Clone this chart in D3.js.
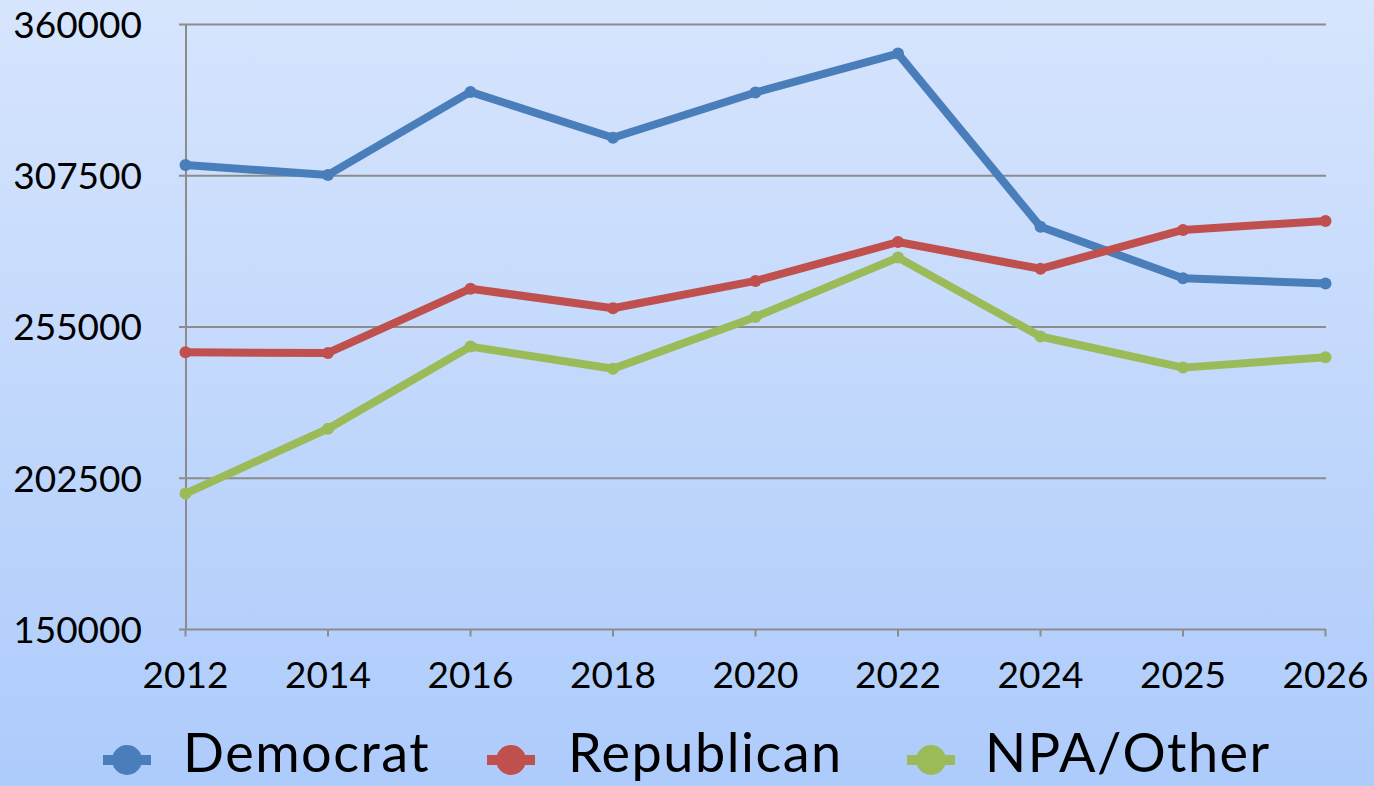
<!DOCTYPE html>
<html>
<head>
<meta charset="utf-8">
<script src="https://cdn.jsdelivr.net/npm/d3@7"></script>
<style>
  body { margin: 0; padding: 0; overflow: hidden; }
  text { font-family: Lato, "Open Sans", sans-serif; fill: #000; }
</style>
</head>
<body>
<div id="chart-area"></div>
<script>
// values
var years = ["2012", "2014", "2016", "2018", "2020", "2022", "2024", "2025", "2026"];
var democrat   = [311200, 307800, 336600, 320700, 336400, 349900, 289800, 271900, 270100];
var republican = [246200, 246000, 268300, 261500, 271000, 284500, 275200, 288700, 291800];
var npaOther   = [197200, 219700, 248200, 240500, 258500, 279100, 251700, 240900, 244500];
var yTicks = [150000, 202500, 255000, 307500, 360000];
var seriesNames = ["Democrat", "Republican", "NPA/Other"];
var seriesColors = ["#4a7ebb", "#c0504d", "#9bbb59"];

var width_chart = 1374;
var height_chart = 786;

var svg = d3.select("#chart-area").append("svg")
	.attr("width", width_chart)
	.attr("height", height_chart);

// background gradient
var grad = svg.append("defs").append("linearGradient")
	.attr("id", "bg")
	.attr("x1", 0).attr("y1", 0).attr("x2", 0).attr("y2", 1);
grad.append("stop").attr("offset", "0%").attr("stop-color", "#d7e5fd");
grad.append("stop").attr("offset", "100%").attr("stop-color", "#adcbfb");

svg.append("rect")
	.attr("width", width_chart)
	.attr("height", height_chart)
	.style("fill", "url(#bg)");

var x = d3.scalePoint()
	.domain(years)
	.range([185.5, 1325.5]);

var y = d3.scaleLinear()
	.domain([150000, 360000])
	.range([629.5, 24.5]);

// gridlines
svg.append("g")
	.selectAll("line")
	.data(yTicks)
	.enter()
	.append("line")
		.attr("x1", 179)
		.attr("x2", 1326)
		.attr("y1", function(d){ return y(d); })
		.attr("y2", function(d){ return y(d); })
		.style("stroke", "#8c8c8c")
		.style("stroke-width", 2);

// y axis line
svg.append("line")
	.attr("x1", 186).attr("x2", 186)
	.attr("y1", y(360000)).attr("y2", y(150000))
	.style("stroke", "#8c8c8c")
	.style("stroke-width", 2);

// x ticks
svg.append("g")
	.selectAll("line")
	.data(years)
	.enter()
	.append("line")
		.attr("x1", function(d){ return x(d); })
		.attr("x2", function(d){ return x(d); })
		.attr("y1", y(150000))
		.attr("y2", y(150000) + 7)
		.style("stroke", "#8c8c8c")
		.style("stroke-width", 2);

// y labels
svg.append("g")
	.selectAll("text")
	.data(yTicks)
	.enter()
	.append("text")
		.attr("x", 142)
		.attr("y", function(d){ return y(d); })
		.attr("dy", "0.36em")
		.attr("text-anchor", "end")
		.style("font-size", "37px")
		.text(function(d){ return d; });

// x labels
svg.append("g")
	.selectAll("text")
	.data(years)
	.enter()
	.append("text")
		.attr("x", function(d){ return x(d); })
		.attr("y", 675)
		.attr("dy", "0.36em")
		.attr("text-anchor", "middle")
		.style("font-size", "37px")
		.text(function(d){ return d; });

var allSeries = [democrat, republican, npaOther];

var line = d3.line()
	.x(function(d, i){ return x(years[i]); })
	.y(function(d){ return y(d); });

allSeries.forEach(function(vals, k){
	svg.append("path")
		.datum(vals)
		.attr("d", line)
		.style("fill", "none")
		.style("stroke", seriesColors[k])
		.style("stroke-width", 8)
		.style("stroke-linejoin", "round");

	svg.append("g")
		.selectAll("circle")
		.data(vals)
		.enter()
		.append("circle")
			.attr("cx", function(d, i){ return x(years[i]); })
			.attr("cy", function(d){ return y(d); })
			.attr("r", 6)
			.style("fill", seriesColors[k]);
});

// legend
var legendX = [103, 487, 907];
var legendTextX = [183, 568, 985];
var legendY = 760;
seriesNames.forEach(function(name, k){
	var g = svg.append("g");
	g.append("line")
		.attr("x1", legendX[k]).attr("x2", legendX[k] + 48)
		.attr("y1", legendY).attr("y2", legendY)
		.style("stroke", seriesColors[k])
		.style("stroke-width", 10);
	g.append("circle")
		.attr("cx", legendX[k] + 24)
		.attr("cy", legendY)
		.attr("r", 15)
		.style("fill", seriesColors[k]);
	g.append("text")
		.attr("x", legendTextX[k])
		.attr("y", 772)
		.style("font-size", "54px")
		.style("letter-spacing", "1.5px")
		.text(name);
});
</script>
</body>
</html>
